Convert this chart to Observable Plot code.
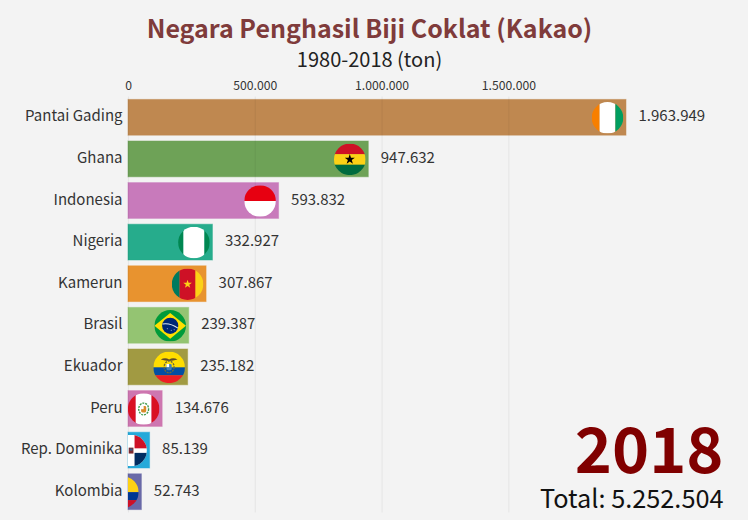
<!DOCTYPE html>
<html><head><meta charset="utf-8">
<script src="https://cdn.jsdelivr.net/npm/d3@7"></script>
<script src="https://cdn.jsdelivr.net/npm/@observablehq/plot@0.6"></script>
<style>
html,body{margin:0;padding:0;background:#f3f3f3;width:748px;height:520px;overflow:hidden;font-family:"Noto Sans CJK SC","Source Sans Pro",sans-serif}
#t{position:absolute;left:0;width:739px;top:9px;text-align:center;font-size:25px;font-weight:700;color:#7f3b3b;line-height:36px}
#s{position:absolute;left:0;width:739px;top:45px;text-align:center;font-size:20px;color:#222;line-height:28px}
#c{position:absolute;left:0;top:70px}
svg{display:block}
</style></head><body>
<div id="t"></div><div id="s"></div><div id="c"></div>
<script>
const titleText = "Negara Penghasil Biji Coklat (Kakao)";
const subtitleText = "1980-2018 (ton)";
const countries = ["Pantai Gading","Ghana","Indonesia","Nigeria","Kamerun","Brasil","Ekuador","Peru","Rep. Dominika","Kolombia"];
const tons = [1963949,947632,593832,332927,307867,239387,235182,134676,85139,52743];
const barColors = ["#bf8850","#6ea257","#c87abb","#26ac8c","#e8932f","#94c472","#a19a42","#ce76b0","#25a9da","#6a6aa8"];
const xTicks = [0,500000,1000000,1500000];
const yearLabel = "2018";
const totalTons = 5252504;

const star = (cx,cy,r,fill)=>{let p=[];for(let i=0;i<10;i++){const a=-Math.PI/2+i*Math.PI/5,q=i%2?r*.382:r;p.push((cx+q*Math.cos(a)).toFixed(2)+","+(cy+q*Math.sin(a)).toFixed(2));}return `<polygon points="${p.join(" ")}" fill="${fill}"/>`;};
const crest = (cx,cy,c1,c2)=>`<ellipse cx="${cx}" cy="${cy}" rx="5" ry="6" fill="none" stroke="${c1}" stroke-width="1.4" stroke-dasharray="2 1"/><rect x="${cx-2.6}" y="${cy-3}" width="5.2" height="6.5" rx="1.5" fill="${c2}"/><rect x="${cx-2.6}" y="${cy-3}" width="2.6" height="3.2" fill="#fff"/>`;
const flagBodies = {
 "Pantai Gading":`<rect width="16" height="32" x="0" fill="#f77f00"/><rect width="16" height="32" x="16" fill="#fff"/><rect width="16" height="32" x="32" fill="#009e60"/>`,
 "Ghana":`<rect width="48" height="11" fill="#ce1126"/><rect y="10.67" width="48" height="11" fill="#fcd116"/><rect y="21.33" width="48" height="10.67" fill="#006b3f"/>${star(24,16,5.4,"#000")}`,
 "Indonesia":`<rect width="48" height="16" fill="#e70011"/><rect y="16" width="48" height="16" fill="#fff"/>`,
 "Nigeria":`<rect width="21.33" height="32" fill="#008751"/><rect x="21.33" width="21.34" height="32" fill="#fff"/><rect x="42.67" width="21.33" height="32" fill="#008751"/>`,
 "Kamerun":`<rect width="16" height="32" fill="#007a5e"/><rect x="16" width="16" height="32" fill="#ce1126"/><rect x="32" width="16" height="32" fill="#fcd116"/>${star(24,16,4.6,"#fcd116")}`,
 "Brasil":`<rect width="48" height="32" fill="#009b3a"/><polygon points="24,3 40,16 24,29 8,16" fill="#fedf00"/><circle cx="24" cy="16" r="8.2" fill="#002776"/><path d="M16.2 14.2 Q24 12.8 31.8 18.4" fill="none" stroke="#dfe8ee" stroke-width="1.1"/><circle cx="21" cy="19" r=".5" fill="#fff"/><circle cx="25" cy="20.5" r=".5" fill="#fff"/><circle cx="28" cy="20" r=".5" fill="#fff"/>`,
 "Ekuador":`<rect width="48" height="16" fill="#ffdd00"/><rect y="16" width="48" height="8" fill="#034ea2"/><rect y="24" width="48" height="8" fill="#ed1c24"/><path d="M15.5 8 Q20 5.5 24 8 Q28 5.5 32.5 8 Q28 9.5 24 9.5 Q20 9.5 15.5 8Z" fill="#5b4a2a"/>${crest(24,15.5,"#6b6a3a","#3f7fb5")}`,
 "Peru":`<rect width="16" height="32" fill="#d91023"/><rect x="16" width="16" height="32" fill="#fff"/><rect x="32" width="16" height="32" fill="#d91023"/>${crest(24,16,"#3f9a4a","#d98a2b")}`,
 "Rep. Dominika":`<rect width="48" height="32" fill="#fff"/><rect width="20.5" height="13.7" fill="#002d62"/><rect x="27.5" width="20.5" height="13.7" fill="#ce1126"/><rect y="18.3" width="20.5" height="13.7" fill="#ce1126"/><rect x="27.5" y="18.3" width="20.5" height="13.7" fill="#002d62"/><rect x="21.6" y="13" width="4.8" height="6" fill="#7a2a30"/><rect x="22.6" y="14" width="2.8" height="2" fill="#2f5c88"/>`,
 "Kolombia":`<rect width="48" height="16" fill="#fcd116"/><rect y="16" width="48" height="8" fill="#003893"/><rect y="24" width="48" height="8" fill="#ce1126"/>`
};
const cropLeft = n => n === "Nigeria" ? 16 : 8;
const flagUri = n => "data:image/svg+xml;utf8,"+encodeURIComponent(`<svg xmlns="http://www.w3.org/2000/svg" viewBox="${cropLeft(n)} 0 32 32" width="128" height="128">${flagBodies[n]}</svg>`);

const rows = countries.map((name,i)=>({name,value:tons[i]}));
const dots = d3.formatLocale({decimal:",",thousands:".",grouping:[3],currency:["",""]}).format(",d");
document.getElementById("t").textContent = titleText;
document.getElementById("s").textContent = subtitleText;

const chart = Plot.plot({
  width:748,height:450,
  marginLeft:128,marginRight:122,marginTop:26.5,marginBottom:7.5,
  style:{background:"transparent",fontFamily:'"Noto Sans CJK SC",sans-serif',overflow:"visible"},
  x:{domain:[0,d3.max(tons)]},
  y:{domain:countries,paddingInner:.14,paddingOuter:.07,axis:null,round:false},
  color:{domain:countries,range:barColors},
  marks:[
    Plot.barX(rows,{x:"value",y:"name",fill:"name",stroke:"name",strokeOpacity:.5,strokeWidth:1}),
    Plot.ruleX(xTicks,{stroke:"#000",strokeOpacity:.05,strokeWidth:1.2}),
    Plot.image(rows,{x:"value",y:"name",src:d=>flagUri(d.name),r:15.8,dx:-19,clip:true}),
    Plot.axisX({ticks:xTicks,anchor:"top",tickSize:0,tickPadding:7,tickFormat:dots,fontSize:12.2,color:"#333",label:null}),
    Plot.axisY({anchor:"left",tickSize:0,tickPadding:6,dy:-1.2,fontSize:15,color:"#333",label:null}),
    Plot.text(rows,{x:"value",y:"name",text:d=>dots(d.value),textAnchor:"start",dx:12,dy:-1.2,fontSize:15,fill:"#333"}),
    Plot.text([yearLabel],{frameAnchor:"bottom-right",text:d=>d,dx:97,dy:-40,fontSize:63,fontWeight:700,fill:"#800000",textAnchor:"end"}),
    Plot.text(["Total: "+dots(totalTons)],{frameAnchor:"bottom-right",text:d=>d,dx:97,dy:-5,fontSize:25.3,fill:"#111",textAnchor:"end"})
  ]
});
document.getElementById("c").appendChild(chart);
</script>
</body></html>
